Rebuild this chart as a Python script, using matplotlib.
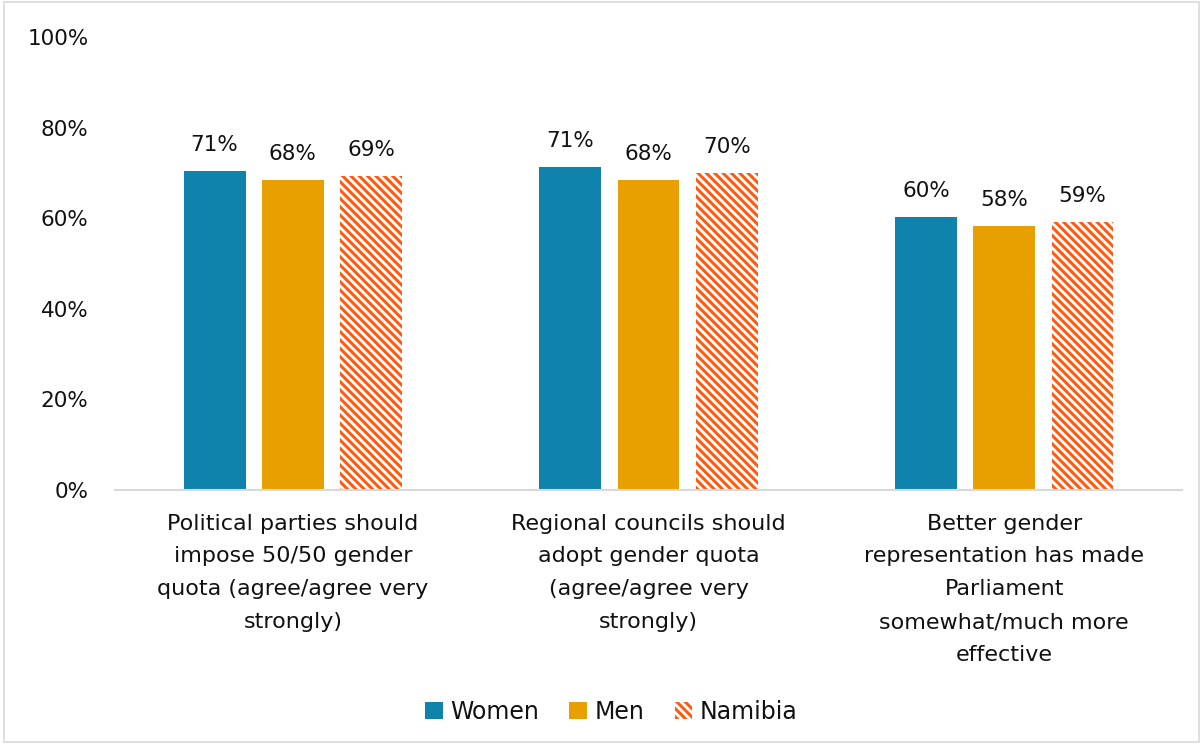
import matplotlib.pyplot as plt
from matplotlib.patches import Rectangle
import numpy as np

# ── Data ──────────────────────────────────────────────────
categories = [
    "Political parties should\nimpose 50/50 gender\nquota (agree/agree very\nstrongly)",
    "Regional councils should\nadopt gender quota\n(agree/agree very\nstrongly)",
    "Better gender\nrepresentation has made\nParliament\nsomewhat/much more\neffective",
]
series_names = ["Women", "Men", "Namibia"]
women   = [70.5, 71.3, 60.2]
men     = [68.5, 68.5, 58.2]
namibia = [69.4, 69.9, 59.1]
labels_women   = ["71%", "71%", "60%"]
labels_men     = ["68%", "68%", "58%"]
labels_namibia = ["69%", "70%", "59%"]
yticks = [0, 20, 40, 60, 80, 100]

BLUE   = "#0F83AB"
GOLD   = "#E89F00"
ORANGE = "#FF5A0F"
TXT    = "#111111"

plt.rcParams["font.family"] = ["DejaVu Sans"]
plt.rcParams["hatch.linewidth"] = 2.2

fig = plt.figure(figsize=(12.03, 7.44), dpi=100)
ax = fig.add_axes([0.0956, 0.3414, 0.887, 0.609])

x = np.arange(len(categories))
width = 0.174
step = 0.22

b1 = ax.bar(x - step, women, width, color=BLUE, label="Women")
b2 = ax.bar(x, men, width, color=GOLD, label="Men")
b3 = ax.bar(x + step, namibia, width, color="white", edgecolor=ORANGE,
            hatch="\\\\\\\\", linewidth=0, label="Namibia")

for bars, labs in [(b1, labels_women), (b2, labels_men), (b3, labels_namibia)]:
    for bar, lab in zip(bars, labs):
        ax.text(bar.get_x() + bar.get_width() / 2, bar.get_height() + 3.5, lab,
                ha="center", va="bottom", fontsize=15.5, color=TXT)

ax.set_xlim(-0.5, 2.5)
ax.set_ylim(0, 100)
ax.set_yticks(yticks)
ax.set_yticklabels([f"{t}%" for t in yticks], fontsize=15.5, color=TXT)
ax.set_xticks(x)
ax.set_xticklabels(categories, fontsize=16, color=TXT, linespacing=1.8)
ax.tick_params(axis="both", length=0)
ax.tick_params(axis="y", pad=19)
ax.tick_params(axis="x", pad=17)
for s in ["top", "right", "left"]:
    ax.spines[s].set_visible(False)
ax.spines["bottom"].set_color("#D9D9D9")
ax.spines["bottom"].set_linewidth(1.5)

leg = fig.legend(handles=[b1, b2, b3], labels=series_names, loc="center",
                 bbox_to_anchor=(0.508, 0.043), ncol=3, frameon=False,
                 fontsize=17, handlelength=0.75, handleheight=0.75,
                 handletextpad=0.3, columnspacing=1.3)
for t in leg.get_texts():
    t.set_color(TXT)

# light border round the figure
fig.patches.append(Rectangle((0.003, 0.003), 0.994, 0.994, transform=fig.transFigure,
                             fill=False, edgecolor="#D9D9D9", linewidth=1.2))

fig.savefig("out.png", dpi=100)
